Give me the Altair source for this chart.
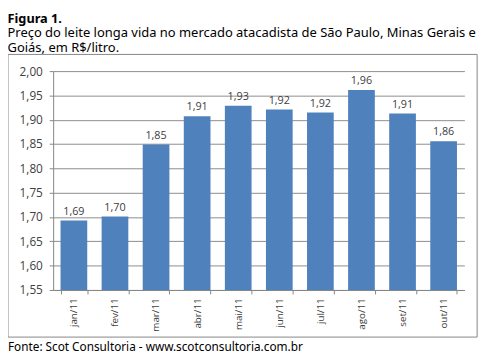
import altair as alt
import pandas as pd

months = ["jan/11", "fev/11", "mar/11", "abr/11", "mai/11", "jun/11", "jul/11", "ago/11", "set/11", "out/11"]
prices = [1.693, 1.701, 1.849, 1.907, 1.929, 1.921, 1.915, 1.961, 1.913, 1.856]
labels = ["1,69", "1,70", "1,85", "1,91", "1,93", "1,92", "1,92", "1,96", "1,91", "1,86"]
y_ticks = [1.55, 1.60, 1.65, 1.70, 1.75, 1.80, 1.85, 1.90, 1.95, 2.00]

title_text = "Figura 1."
subtitle_lines = [
    "Preço do leite longa vida no mercado atacadista  de São Paulo, Minas Gerais e",
    "Goiás, em R$/litro.",
]
footer_text = "Fonte: Scot Consultoria - www.scotconsultoria.com.br"

df = pd.DataFrame({"mes": months, "preco": prices, "rotulo": labels})

W, H = 419, 223
FONT = "Noto Sans"
AXFONT = "Open Sans"

x_enc = alt.X(
    "mes:N", sort=months, title=None,
    scale=alt.Scale(paddingInner=0.35, paddingOuter=0.18),
    axis=alt.Axis(labelAngle=-90, tickBand="extent", tickSize=4, labelPadding=4,
                  labelFont=AXFONT, labelFontSize=10, labelColor="#404040",
                  domainColor="#868686", tickColor="#868686", grid=False),
)
y_enc = alt.Y(
    "preco:Q", title=None,
    scale=alt.Scale(domain=[1.55, 2.0], nice=False, zero=False),
    axis=alt.Axis(values=y_ticks, labelExpr="replace(format(datum.value, '.2f'), '.', ',')",
                  labelOverlap=False, labelBound=False,
                  tickSize=4, labelPadding=7, labelFont=AXFONT, labelFontSize=12,
                  labelColor="#404040", domainColor="#868686", tickColor="#868686",
                  gridColor="#8c8c8c", gridWidth=1),
)

base = alt.Chart(df)

bars = base.mark_bar(color="#4F81BD", clip=True).encode(x=x_enc, y=y_enc)
texts = base.mark_text(dy=-9, font=AXFONT, fontSize=11, color="#404040").encode(
    x=x_enc, y=y_enc, text="rotulo:N"
)

one = pd.DataFrame({"t": [footer_text]})
frame = alt.Chart(one).mark_rect(fill="white", fillOpacity=0, stroke="#868686", strokeWidth=1).encode(
    x=alt.value(-46), x2=alt.value(W + 13), y=alt.value(-17), y2=alt.value(H + 48)
)
footer = alt.Chart(one).mark_text(align="left", baseline="middle", font=FONT, fontSize=12, color="black").encode(
    x=alt.value(-46), y=alt.value(H + 58), text="t:N"
)

chart = alt.layer(frame, bars, texts, footer).properties(
    width=W, height=H,
    autosize=alt.AutoSizeParams(type="none"),
    padding={"left": 46, "top": 61, "right": 20, "bottom": 66},
    title=alt.TitleParams(
        text=title_text, subtitle=subtitle_lines, anchor="start", frame="bounds",
        font=FONT, fontSize=13, fontWeight="bold", color="black",
        subtitleFont=FONT, subtitleFontSize=13.2, subtitleColor="black",
        subtitleLineHeight=15, subtitlePadding=1, offset=0,
    ),
).configure_view(strokeWidth=0)

chart.save("out.html", embed_options={"renderer": "svg", "actions": False})
